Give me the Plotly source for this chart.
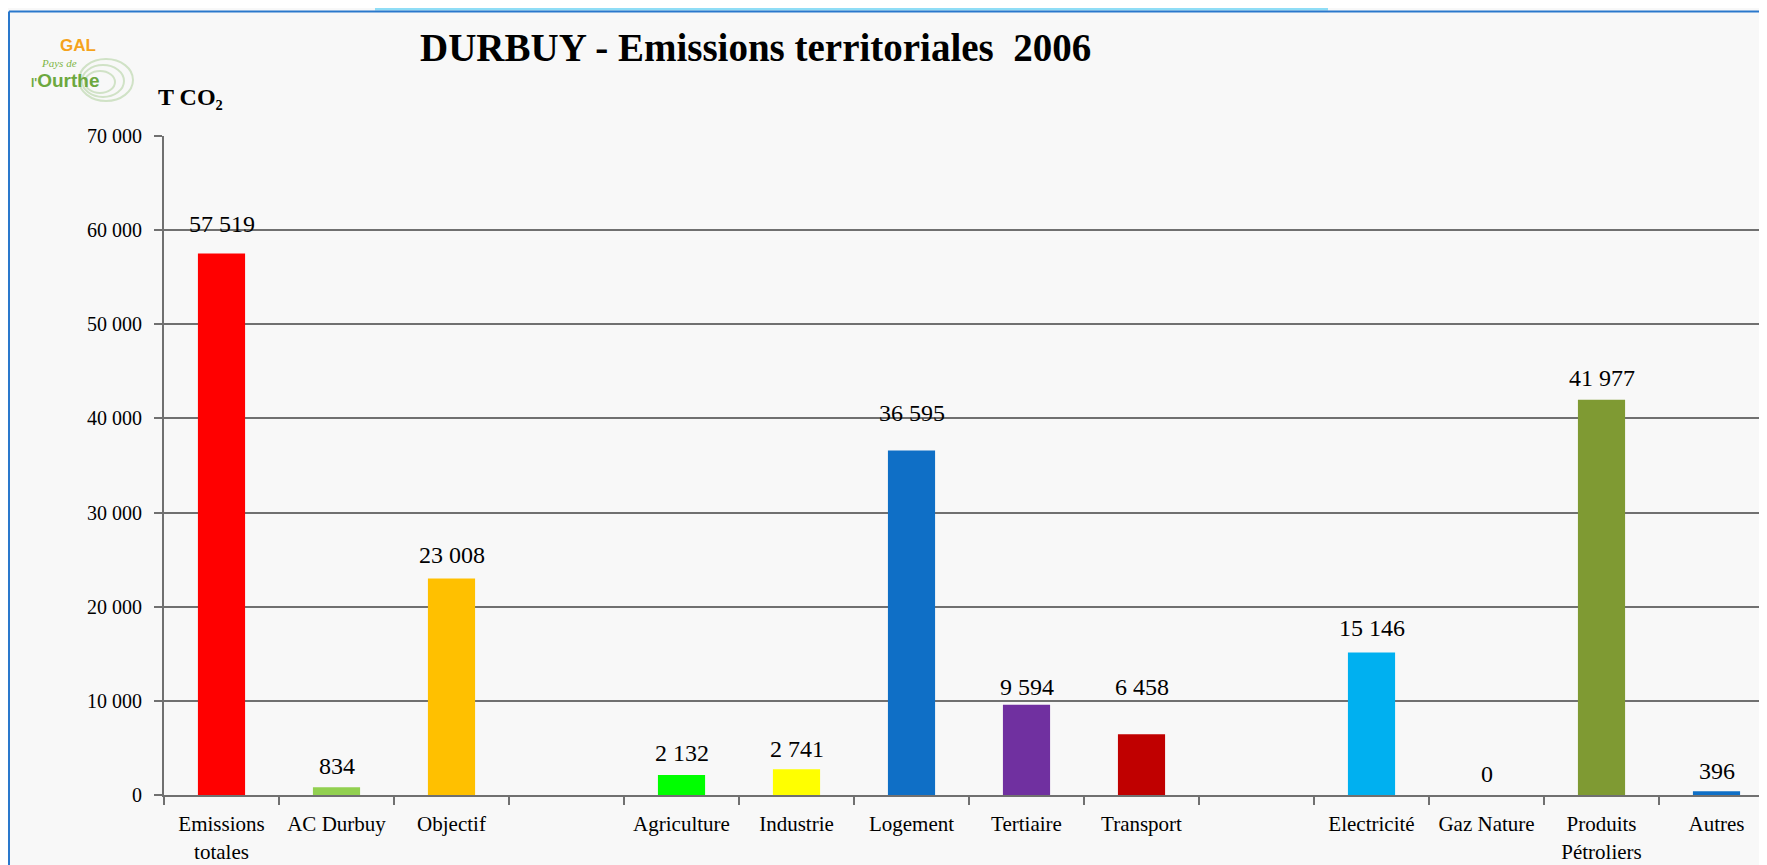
import plotly.graph_objects as go

# ---- data ----
categories = ["Emissions<br>totales", "AC Durbuy", "Objectif", " ",
              "Agriculture", "Industrie", "Logement", "Tertiaire", "Transport", "  ",
              "Electricité", "Gaz Nature", "Produits<br>Pétroliers", "Autres"]
values = [57519, 834, 23008, None, 2132, 2741, 36595, 9594, 6458, None, 15146, 0, 41977, 396]
bar_colors = ["#FF0000", "#92D050", "#FFC000", "#FFFFFF",
              "#00FF00", "#FFFF00", "#0F6FC6", "#7030A0", "#C00000", "#FFFFFF",
              "#00B0F0", "#0F6FC6", "#7F9A33", "#0F6FC6"]
y_ticks = [0, 10000, 20000, 30000, 40000, 50000, 60000, 70000]
title_text = "DURBUY - Emissions territoriales  2006"
unit_text = "T CO₂"

# label vertical offsets (px above bar top) - styling only
label_lift = [30, 21, 23, 0, 22, 20, 37, 18, 47, 0, 24, 21, 22, 20]

# screen geometry (the page body adds an 8px offset, compensated here)
SCR_W, SCR_H = 1767, 865
OFF = 8
W, H = SCR_W - OFF, SCR_H - OFF
PLOT_LEFT, PLOT_TOP, PLOT_BOTTOM = 164, 136, 795   # screen px
ML = PLOT_LEFT - OFF
MT = PLOT_TOP - OFF
MB = SCR_H - PLOT_BOTTOM
MR = 0
PW, PH = W - ML - MR, H - MT - MB
CAT_W = 115.0


def px2x(px):  # screen px -> paper x
    return (px - OFF - ML) / PW


def px2y(py):  # screen px -> paper y
    return (H - MB - (py - OFF)) / PH


SERIF = "Liberation Serif, Times New Roman, serif"
SANS = "Liberation Sans, Arial, sans-serif"
GRID = "#707070"

fig = go.Figure(go.Bar(
    x=categories, y=values, marker_color=bar_colors, marker_line_width=0,
    width=0.41, hoverinfo="x+y"))

for c, v, lift in zip(categories, values, label_lift):
    if v is None:
        continue
    fig.add_annotation(x=c, y=v, text=f"{v:,}".replace(",", " "), showarrow=False,
                       yanchor="middle", yshift=lift,
                       font=dict(family=SERIF, size=24, color="#000000"))

# title & unit
fig.add_annotation(xref="paper", yref="paper", x=px2x(755), y=px2y(48),
                   text=f"<b>{title_text}</b>", showarrow=False,
                   xanchor="center", yanchor="middle",
                   font=dict(family=SERIF, size=39, color="#000000"))
fig.add_annotation(xref="paper", yref="paper", x=px2x(156), y=px2y(97),
                   text=f"<b>{unit_text}</b>", showarrow=False,
                   xanchor="left", yanchor="middle",
                   font=dict(family=SERIF, size=24, color="#000000"))

# logo (text-based)
for (rx, ry, cx, cy) in [(27, 21, 106, 80), (21, 16, 103, 81), (15, 11, 100, 82)]:
    fig.add_shape(type="circle", xref="paper", yref="paper",
                  x0=px2x(cx - rx), x1=px2x(cx + rx), y0=px2y(cy + ry), y1=px2y(cy - ry),
                  line=dict(color="#d0e2c6", width=2), fillcolor="rgba(0,0,0,0)", layer="below")
fig.add_annotation(xref="paper", yref="paper", x=px2x(78), y=px2y(46), text="<b>GAL</b>",
                   showarrow=False, xanchor="center", yanchor="middle", borderpad=0,
                   font=dict(family=SANS, size=17, color="#F5A31C"))
fig.add_annotation(xref="paper", yref="paper", x=px2x(40), y=px2y(63), text="<i>Pays de</i>",
                   showarrow=False, xanchor="left", yanchor="middle", borderpad=0,
                   font=dict(family=SERIF, size=11, color="#7DB545"))
fig.add_annotation(xref="paper", yref="paper", x=px2x(30), y=px2y(80),
                   text="<b><span style='font-size:12px'>l'</span>Ourthe</b>",
                   showarrow=False, xanchor="left", yanchor="middle", borderpad=0,
                   font=dict(family=SANS, size=19, color="#6DA83F"))

# frame: cyan bar on top, blue border lines
fig.add_shape(type="rect", xref="paper", yref="paper",
              x0=px2x(375), x1=px2x(1328), y0=px2y(10.5), y1=px2y(OFF),
              fillcolor="#8FDDF6", line_width=0, layer="below")
fig.add_shape(type="line", xref="paper", yref="paper",
              x0=px2x(OFF + 1), x1=px2x(SCR_W + 5), y0=px2y(11.5), y1=px2y(11.5),
              line=dict(color="#2A78CC", width=2))
fig.add_shape(type="line", xref="paper", yref="paper",
              x0=px2x(OFF + 1), x1=px2x(OFF + 1), y0=px2y(11.5), y1=px2y(SCR_H + 5),
              line=dict(color="#2A78CC", width=2))

fig.update_layout(
    width=W, height=H,
    margin=dict(l=ML, r=MR, t=MT, b=MB, pad=0),
    paper_bgcolor="#f8f8f8", plot_bgcolor="#f8f8f8",
    separators=". ",
    showlegend=False,
    bargap=0.59,
)
fig.update_xaxes(
    type="category", range=[-0.5, -0.5 + PW / CAT_W],
    showline=True, linecolor=GRID, linewidth=2,
    ticks="outside", tickson="boundaries", ticklen=8, tickwidth=2, tickcolor=GRID,
    showgrid=False, ticklabelstandoff=9,
    tickfont=dict(family=SERIF, size=21, color="#000000"),
)
fig.update_yaxes(
    range=[0, 70000], tickvals=y_ticks, tickformat=",d",
    showgrid=True, gridcolor=GRID, gridwidth=2,
    showline=True, linecolor=GRID, linewidth=2,
    ticks="outside", ticklen=8, tickwidth=2, tickcolor=GRID,
    zeroline=False, ticklabelstandoff=8,
    tickfont=dict(family=SERIF, size=20, color="#000000"),
)

fig.write_html("out.html")
